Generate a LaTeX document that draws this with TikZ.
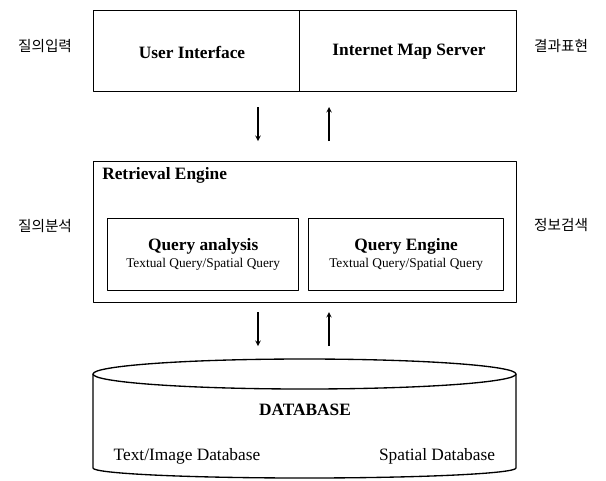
\documentclass[tikz,border=0pt]{standalone}
\usepackage{fontspec}
\setmainfont{Liberation Serif}
\newfontfamily\kr{Noto Sans CJK KR}
\tikzset{
  box/.style={draw,line width=1pt,inner sep=0pt,anchor=north west},
  side/.style={font=\kr\fontsize{11}{12}\selectfont},
  ttl/.style={font=\bfseries\fontsize{13}{15}\selectfont}
}
\begin{document}
\begin{tikzpicture}[>=stealth,line join=round,x=0.75pt,y=-0.75pt]
		\useasboundingbox (0,0) rectangle (606,480);
		% top boxes
		\node[box,minimum width=206*0.75pt,minimum height=81*0.75pt] (ui) at (93,10) {};
		\node[box,minimum width=217*0.75pt,minimum height=81*0.75pt] (ims) at (299,10) {};
		\node[ttl] (uit) at (192,52) {User Interface};
		\node[ttl] (imst) at (409,52) {Internet Map Server};
		\node[side] (in) at (45,46) {질의입력};
		\node[side] (out) at (561,46) {결과표현};
		% retrieval engine
		\node[box,minimum width=423*0.75pt,minimum height=141*0.75pt] (re) at (93,161) {};
		\node[ttl,anchor=west,inner sep=0pt] (ret) at (102,175) {Retrieval Engine};
		\node[box,minimum width=191*0.75pt,minimum height=72*0.75pt,align=center] (qa) at (107,218)
		  {{\bfseries\fontsize{13}{15}\selectfont Query analysis}\\[1pt]{\fontsize{10}{12}\selectfont Textual Query/Spatial Query}};
		\node[box,minimum width=195*0.75pt,minimum height=72*0.75pt,align=center] (qe) at (308,218)
		  {{\bfseries\fontsize{13}{15}\selectfont Query Engine}\\[1pt]{\fontsize{10}{12}\selectfont Textual Query/Spatial Query}};
		\node[side] (ana) at (45,226) {질의분석};
		\node[side] (ret2) at (561,225) {정보검색};
		% database
		\coordinate (dbl) at (93,374); \coordinate (dbr) at (516,374);
		\draw[line width=1pt] (dbl) -- (93,468) arc[start angle=180,end angle=0,x radius=211.5,y radius=10] -- (dbr);
		\draw[line width=1pt] (304.5,374) ellipse[x radius=211.5,y radius=15];
		\node[ttl] (dbt) at (305,410) {DATABASE};
		\node[font=\fontsize{13}{15}\selectfont] (tid) at (187,456) {Text/Image Database};
		\node[font=\fontsize{13}{15}\selectfont] (sd) at (437,456) {Spatial Database};
		% arrows
		\coordinate (a1) at (258,107); \coordinate (b1) at (258,141);
		\coordinate (a2) at (329,107); \coordinate (b2) at (329,141);
		\coordinate (a3) at (258,312); \coordinate (b3) at (258,346);
		\coordinate (a4) at (329,312); \coordinate (b4) at (329,346);
		\draw[->,line width=0.8pt] (a1)--(b1);
		\draw[->,line width=0.8pt] (b2)--(a2);
		\draw[->,line width=0.8pt] (a3)--(b3);
		\draw[->,line width=0.8pt] (b4)--(a4);
\end{tikzpicture}
\end{document}
